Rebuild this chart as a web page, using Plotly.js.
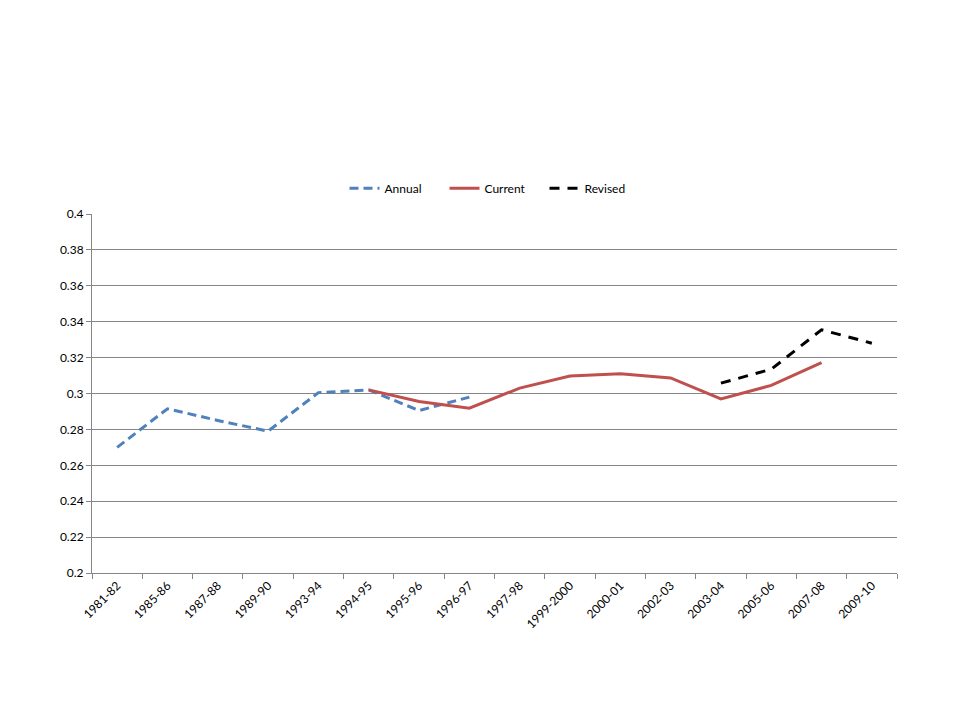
<!DOCTYPE html>
<html>
<head>
<meta charset="utf-8">
<script src="https://cdn.plot.ly/plotly-3.0.1.min.js"></script>
<style>html,body{margin:0;padding:0;background:#fff;}#chart{width:960px;height:720px;}</style>
</head>
<body>
<div id="chart"></div>
<script>
const categories = ["1981-82","1985-86","1987-88","1989-90","1993-94","1994-95","1995-96","1996-97","1997-98","1999-2000","2000-01","2002-03","2003-04","2005-06","2007-08","2009-10"];
const annual  = [0.270, 0.2915, 0.285, 0.279, 0.3005, 0.302, 0.2905, 0.298, null, null, null, null, null, null, null, null];
const current = [null, null, null, null, null, 0.302, 0.2955, 0.2918, 0.303, 0.3097, 0.311, 0.3087, 0.297, 0.3045, 0.3172, null];
const revised = [null, null, null, null, null, null, null, null, null, null, null, null, 0.3058, 0.3135, 0.3355, 0.328];

const fontFam = "Lato, 'Open Sans', sans-serif";
const traces = [
  {name: "Annual", x: categories, y: annual, type: "scatter", mode: "lines",
   line: {color: "#4F81BD", width: 3, dash: "9px,5px"}, connectgaps: false},
  {name: "Current", x: categories, y: current, type: "scatter", mode: "lines",
   line: {color: "#C0504D", width: 3}, connectgaps: false},
  {name: "Revised", x: categories, y: revised, type: "scatter", mode: "lines",
   line: {color: "#000000", width: 3, dash: "10px,8px"}, connectgaps: false}
];
const layout = {
  width: 960, height: 720,
  margin: {l: 92, r: 63, t: 214, b: 147},
  paper_bgcolor: "#fff", plot_bgcolor: "#fff",
  font: {family: fontFam, size: 12, color: "#000"},
  showlegend: true,
  legend: {orientation: "h", x: 0.5, xanchor: "center", y: 1.072, yanchor: "middle",
           font: {family: fontFam, size: 12, color: "#000"}, traceorder: "normal",
           entrywidth: 55, entrywidthmode: "pixels"},
  xaxis: {type: "category", range: [-0.5, 15.5], tickson: "boundaries", ticks: "outside", ticklen: 5,
          tickcolor: "#868686", showline: true, linecolor: "#868686", linewidth: 1,
          showgrid: false, tickangle: -45, zeroline: false, fixedrange: true,
          tickfont: {family: fontFam, size: 12, color: "#000"}},
  yaxis: {range: [0.2, 0.4], dtick: 0.02, tick0: 0.2, ticks: "outside", ticklen: 5, tickcolor: "#868686",
          showline: true, linecolor: "#868686", linewidth: 1, showgrid: true, gridcolor: "#868686",
          gridwidth: 1, zeroline: false, fixedrange: true,
          tickfont: {family: fontFam, size: 12, color: "#000"}}
};
Plotly.newPlot("chart", traces, layout, {displayModeBar: false, staticPlot: true});
</script>
</body>
</html>
